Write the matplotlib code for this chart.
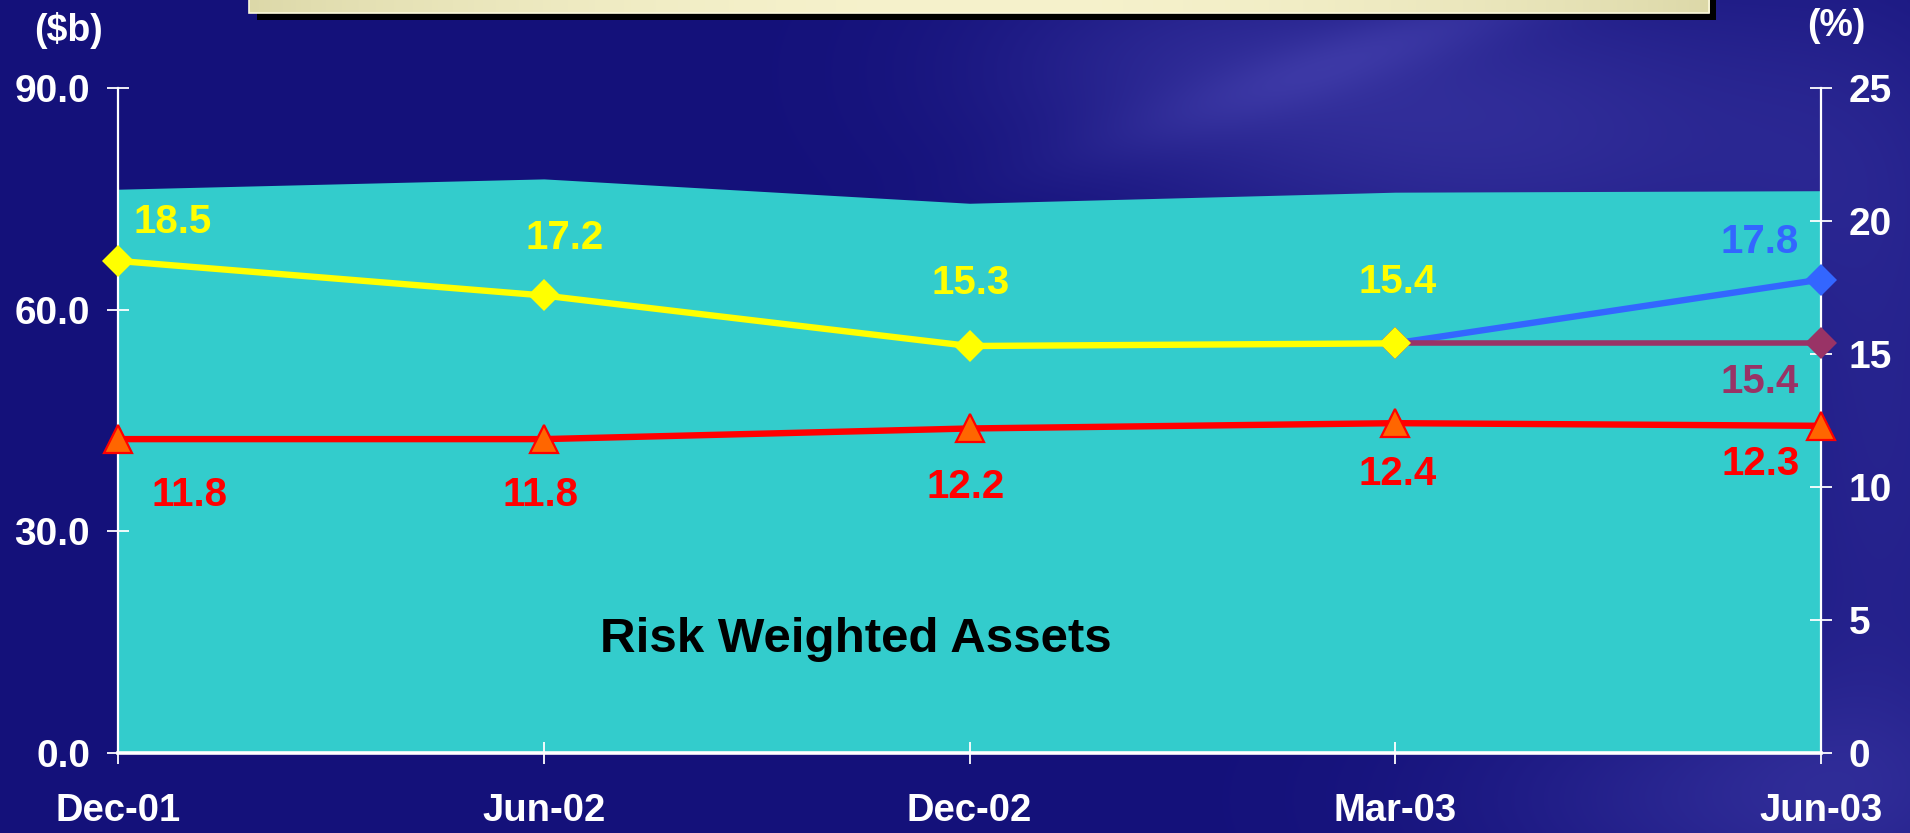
import numpy as np
import matplotlib
matplotlib.use("Agg")
import matplotlib.pyplot as plt
from matplotlib.patches import Rectangle

# ---------------- data ----------------
periods = ["Dec-01", "Jun-02", "Dec-02", "Mar-03", "Jun-03"]
rwa_bn = [76.3, 77.7, 74.4, 75.9, 76.1]            # Risk Weighted Assets ($b), area
ratio_yellow = [18.5, 17.2, 15.3, 15.4]              # Dec-01 .. Mar-03 (%)
ratio_blue = [15.4, 17.8]                            # Mar-03 .. Jun-03 (%)
ratio_purple = [15.4, 15.4]                          # Mar-03 .. Jun-03 (%)
ratio_red = [11.8, 11.8, 12.2, 12.4, 12.3]           # Dec-01 .. Jun-03 (%)
left_ticks = [0.0, 30.0, 60.0, 90.0]
right_ticks = [0, 5, 10, 15, 20, 25]

FONT = ["Liberation Sans", "DejaVu Sans"]
plt.rcParams["font.family"] = FONT
plt.rcParams["font.weight"] = "bold"

W, H = 1910, 833
DPI = 100
fig = plt.figure(figsize=(W / DPI, H / DPI), dpi=DPI)

# ---------------- background ----------------
bg = fig.add_axes([0, 0, 1, 1], zorder=-10)
bg.axis("off")
gy, gx = np.mgrid[0:H:4, 0:W:4].astype(float)
base = np.array([20, 17, 122]) / 255.0
light = np.array([72, 68, 178]) / 255.0
wgt = (0.50 * np.exp(-(((gx - 1520) / 360) ** 2 + ((gy - 130) / 170) ** 2))
       + 0.30 * np.exp(-(((gx - 1200) / 240) ** 2 + ((gy - 60) / 110) ** 2))
       + 0.35 * np.exp(-(((gx - 1880) / 160) ** 2 + ((gy - 450) / 420) ** 2))
       + 0.40 * np.exp(-(((gx - 1750) / 300) ** 2 + ((gy - 800) / 120) ** 2)))
band = np.exp(-(((gx - 1250) * 0.35 + (gy - 90) * 1.0) / 35) ** 2) * np.exp(-((gx - 1400) / 300) ** 2)
wgt = np.clip(wgt + 0.25 * band, 0, 1)
img = base[None, None, :] * (1 - wgt[..., None]) + light[None, None, :] * wgt[..., None]
bg.imshow(img, extent=[0, W, H, 0], aspect="auto", interpolation="bilinear", zorder=0)

# banner at top with shadow
bg.add_patch(Rectangle((257, -5), 1716 - 257, 19.5 + 5, facecolor="black",
                       edgecolor="none", zorder=1))
bgrad = np.linspace(0, 1, 300)
bcol = np.array([220, 216, 168]) / 255.0
bcol2 = np.array([246, 242, 204]) / 255.0
t = np.sin(np.pi * bgrad) ** 0.8
bimg = bcol[None, :] * (1 - t[:, None]) + bcol2[None, :] * t[:, None]
bg.imshow(bimg[None, :, :], extent=[249, 1709, 13, -2], aspect="auto",
          interpolation="bilinear", zorder=2)
bg.add_patch(Rectangle((249, -2), 1709 - 249, 15, facecolor="none",
                       edgecolor="#FBF8DC", lw=1.2, zorder=3))
bg.set_xlim(0, W)
bg.set_ylim(H, 0)

# ---------------- main axes ----------------
L, R, T, B = 118, 1821, 88, 753
ax1 = fig.add_axes([L / W, (H - B) / H, (R - L) / W, (B - T) / H])
ax1.patch.set_alpha(0)
x = np.arange(len(periods))
ax1.fill_between(x, rwa_bn, 0, color="#33CCCC", lw=0, zorder=1)
ax1.set_xlim(0, len(periods) - 1)
ax1.set_ylim(0, 90)
ax1.set_yticks(left_ticks)
ax1.set_yticklabels([f"{v:.1f}" for v in left_ticks])
ax1.set_xticks(x)
ax1.set_xticklabels(periods)

ax2 = ax1.twinx()
ax2.set_ylim(0, 25)
ax2.set_yticks(right_ticks)
ax2.set_yticklabels([str(v) for v in right_ticks])

for ax in (ax1, ax2):
    ax.spines["top"].set_visible(False)
ax1.spines["right"].set_visible(False)
ax2.spines["left"].set_visible(False)
ax2.spines["bottom"].set_visible(False)
ax1.spines["left"].set_color("white")
ax1.spines["left"].set_linewidth(1.6)
ax1.spines["bottom"].set_color("white")
ax1.spines["bottom"].set_linewidth(2.6)
ax2.spines["right"].set_color("white")
ax2.spines["right"].set_linewidth(1.6)

ax1.tick_params(axis="y", direction="inout", length=16, width=1.3, color="white",
                labelcolor="white", labelsize=28, pad=12)
ax1.tick_params(axis="x", direction="inout", length=16, width=1.3, color="white",
                labelcolor="white", labelsize=27.5, pad=21)
ax2.tick_params(axis="y", direction="inout", length=16, width=1.3, color="white",
                labelcolor="white", labelsize=28, pad=12)
for lab in ax1.get_xticklabels() + ax1.get_yticklabels() + ax2.get_yticklabels():
    lab.set_fontweight("bold")

# ---------------- lines ----------------
xb = x[3:5]
ax2.plot(xb, ratio_blue, color="#3366FF", lw=4.6, marker="D", ms=16.5, mew=0,
         mfc="#3366FF", clip_on=False, zorder=3)
ax2.plot(xb, ratio_purple, color="#993366", lw=4.0, marker="D", ms=16.5, mew=0,
         mfc="#993366", clip_on=False, zorder=3)
ax2.plot(x[:4], ratio_yellow, color="#FFFF00", lw=4.6, marker="D", ms=16.5, mew=0,
         mfc="#FFFF00", clip_on=False, zorder=4)
ax2.plot(x, ratio_red, color="#FF0000", lw=4.6, zorder=3, clip_on=False)
ax2.plot(x, ratio_red, ls="none", marker="^", ms=20, mfc="#FF6600", mec="#FF0000",
         mew=1.6, clip_on=False, zorder=5)

# ---------------- data labels ----------------
PX = 72.0 / DPI   # px -> points
CAPH = 14.5       # half cap height (px) to convert visual centre to baseline


def label(xi, v, txt, dx, dy, color):
    ax2.annotate(txt, xy=(xi, v), xytext=(dx * PX, (dy - CAPH) * PX),
                 textcoords="offset points", ha="center", va="baseline",
                 color=color, fontsize=29, fontweight="bold", zorder=6,
                 annotation_clip=False)


yellow_off = [(55, 42), (21, 61), (1.5, 67), (2, 65)]
for xi, v, (dx, dy) in zip(x[:4], ratio_yellow, yellow_off):
    label(xi, v, f"{v:.1f}", dx, dy, "#FFFF00")
red_off = [(71, -52), (-3, -52), (-4, -55.5), (2, -47), (-60, -35)]
for xi, v, (dx, dy) in zip(x, ratio_red, red_off):
    label(xi, v, f"{v:.1f}", dx, dy, "#FF0000")
label(x[4], ratio_blue[1], f"{ratio_blue[1]:.1f}", -61, 41.5, "#3366FF")
label(x[4], ratio_purple[1], f"{ratio_purple[1]:.1f}", -61, -35, "#993366")

# ---------------- other text ----------------
fig.text(855.7 / W, 1 - 652 / H, "Risk Weighted Assets", ha="center", va="baseline",
         fontsize=35.5, fontweight="bold", color="black")
fig.text(68 / W, 1 - 41 / H, "($b)", ha="center", va="baseline",
         fontsize=27, fontweight="bold", color="white")
fig.text(1836 / W, 1 - 36 / H, "(%)", ha="center", va="baseline",
         fontsize=27, fontweight="bold", color="white")

fig.savefig("out.png", dpi=DPI)
